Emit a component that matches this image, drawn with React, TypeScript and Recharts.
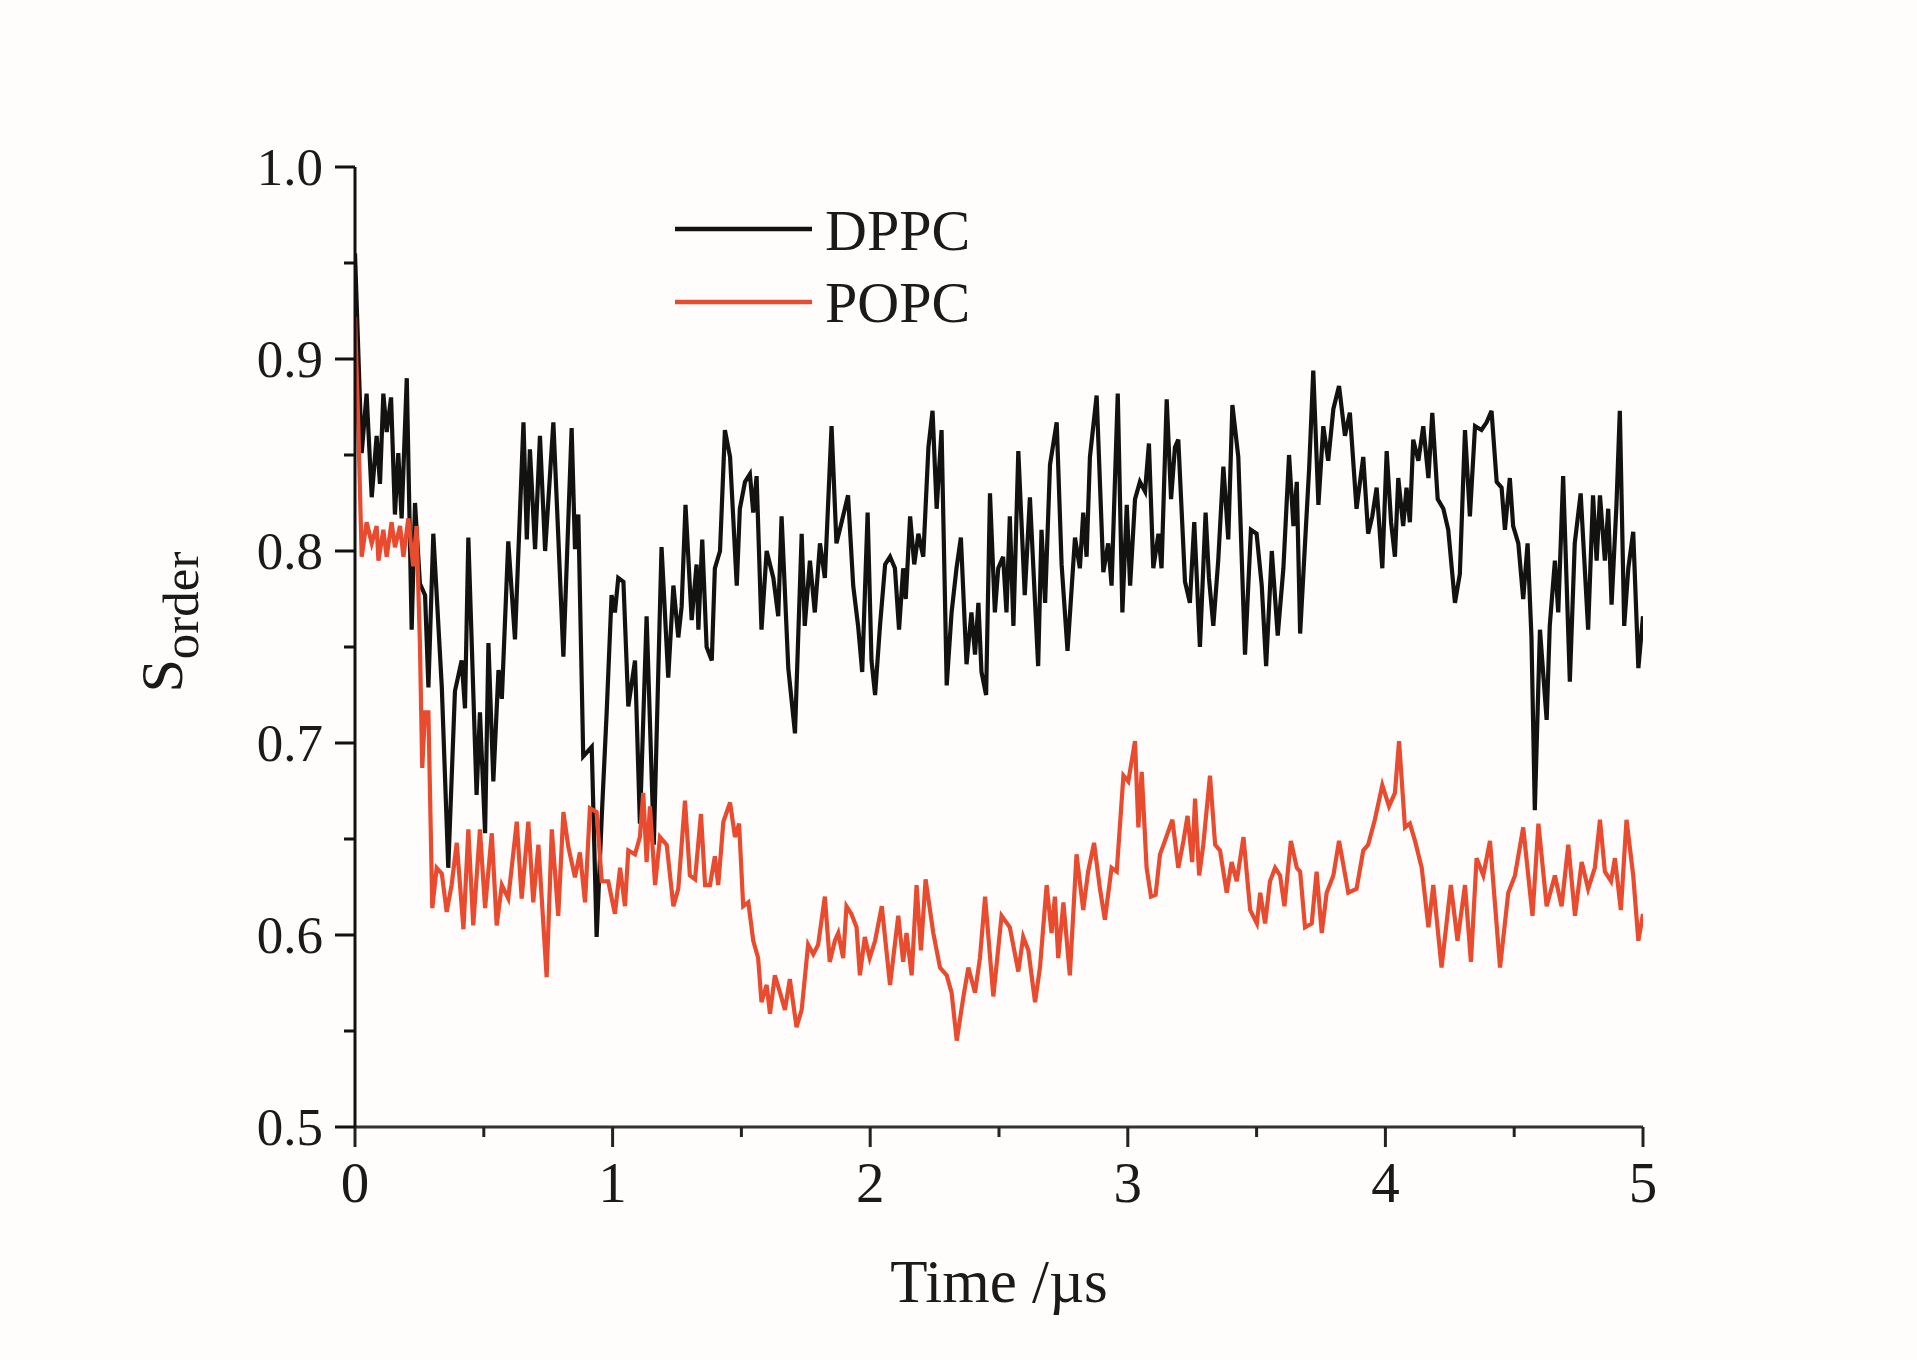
import { LineChart, Line, XAxis, YAxis, Legend } from 'recharts'

// time in µs, order parameter
const dppcTime = [
  0, 0.026, 0.045, 0.065, 0.084, 0.097, 0.11, 0.123, 0.14, 0.155, 0.168, 0.181, 0.201, 0.22, 0.233, 0.252, 0.272, 0.285,
  0.304, 0.337, 0.362, 0.388, 0.414, 0.427, 0.44, 0.472, 0.485, 0.505, 0.518, 0.537, 0.557, 0.57, 0.595, 0.621, 0.654,
  0.667, 0.679, 0.699, 0.718, 0.738, 0.77, 0.789, 0.809, 0.841, 0.854, 0.867, 0.886, 0.919, 0.938, 0.958, 0.977, 0.996,
  1.009, 1.022, 1.042, 1.061, 1.087, 1.106, 1.132, 1.16, 1.19, 1.216, 1.236, 1.255, 1.268, 1.283, 1.307, 1.326, 1.333,
  1.348, 1.365, 1.385, 1.397, 1.417, 1.436, 1.456, 1.482, 1.494, 1.514, 1.533, 1.546, 1.559, 1.578, 1.598, 1.624, 1.643,
  1.656, 1.682, 1.708, 1.734, 1.746, 1.766, 1.785, 1.805, 1.824, 1.85, 1.869, 1.889, 1.914, 1.934, 1.953, 1.969, 1.99,
  2.005, 2.019, 2.038, 2.058, 2.077, 2.096, 2.112, 2.128, 2.138, 2.155, 2.171, 2.187, 2.206, 2.226, 2.242, 2.258, 2.277,
  2.297, 2.316, 2.335, 2.352, 2.374, 2.393, 2.407, 2.42, 2.432, 2.45, 2.465, 2.484, 2.497, 2.516, 2.529, 2.542, 2.556,
  2.575, 2.6, 2.62, 2.652, 2.665, 2.679, 2.698, 2.724, 2.743, 2.766, 2.795, 2.814, 2.827, 2.84, 2.853, 2.879, 2.905,
  2.924, 2.937, 2.961, 2.979, 2.996, 3.009, 3.028, 3.047, 3.067, 3.082, 3.099, 3.119, 3.131, 3.151, 3.168, 3.183, 3.196,
  3.222, 3.241, 3.258, 3.28, 3.302, 3.315, 3.332, 3.351, 3.371, 3.39, 3.406, 3.429, 3.455, 3.478, 3.5, 3.52, 3.537,
  3.559, 3.582, 3.604, 3.626, 3.643, 3.656, 3.669, 3.688, 3.704, 3.72, 3.74, 3.759, 3.778, 3.798, 3.82, 3.843, 3.862,
  3.888, 3.914, 3.933, 3.949, 3.966, 3.988, 4.005, 4.022, 4.037, 4.05, 4.069, 4.082, 4.095, 4.108, 4.128, 4.147, 4.167,
  4.182, 4.203, 4.225, 4.244, 4.27, 4.289, 4.309, 4.328, 4.348, 4.373, 4.393, 4.412, 4.432, 4.451, 4.464, 4.483, 4.496,
  4.516, 4.535, 4.552, 4.567, 4.58, 4.6, 4.626, 4.638, 4.658, 4.671, 4.69, 4.716, 4.735, 4.758, 4.787, 4.806, 4.82,
  4.833, 4.852, 4.865, 4.878, 4.897, 4.91, 4.927, 4.943, 4.962, 4.982, 5.0,
]
const dppcOrder = [
  0.955, 0.851, 0.882, 0.828, 0.86, 0.835, 0.882, 0.862, 0.88, 0.819, 0.851, 0.817, 0.89, 0.759, 0.825, 0.783, 0.777, 0.729,
  0.809, 0.729, 0.635, 0.727, 0.743, 0.718, 0.807, 0.673, 0.716, 0.653, 0.752, 0.68, 0.738, 0.723, 0.805, 0.754, 0.867,
  0.806, 0.853, 0.801, 0.86, 0.8, 0.867, 0.808, 0.745, 0.864, 0.801, 0.819, 0.693, 0.698, 0.599, 0.662, 0.716, 0.777,
  0.768, 0.786, 0.784, 0.719, 0.743, 0.658, 0.766, 0.647, 0.802, 0.734, 0.782, 0.755, 0.771, 0.824, 0.764, 0.793, 0.759,
  0.806, 0.75, 0.743, 0.791, 0.8, 0.863, 0.849, 0.782, 0.822, 0.836, 0.84, 0.82, 0.839, 0.759, 0.8, 0.786, 0.766,
  0.818, 0.739, 0.705, 0.809, 0.761, 0.795, 0.768, 0.804, 0.786, 0.865, 0.804, 0.815, 0.829, 0.782, 0.761, 0.737, 0.82,
  0.743, 0.725, 0.761, 0.793, 0.797, 0.791, 0.759, 0.791, 0.775, 0.818, 0.793, 0.809, 0.797, 0.854, 0.873, 0.822, 0.863,
  0.73, 0.768, 0.791, 0.807, 0.741, 0.768, 0.746, 0.773, 0.737, 0.725, 0.83, 0.768, 0.791, 0.797, 0.768, 0.818, 0.761,
  0.852, 0.777, 0.828, 0.74, 0.811, 0.773, 0.845, 0.867, 0.793, 0.748, 0.807, 0.791, 0.82, 0.797, 0.849, 0.881, 0.789,
  0.804, 0.782, 0.882, 0.768, 0.824, 0.782, 0.827, 0.836, 0.831, 0.856, 0.791, 0.809, 0.791, 0.879, 0.827, 0.854, 0.858,
  0.784, 0.773, 0.815, 0.75, 0.82, 0.786, 0.761, 0.795, 0.844, 0.806, 0.876, 0.849, 0.746, 0.811, 0.809, 0.782, 0.74,
  0.8, 0.756, 0.791, 0.85, 0.813, 0.836, 0.757, 0.804, 0.843, 0.894, 0.824, 0.865, 0.847, 0.874, 0.886, 0.86, 0.872,
  0.822, 0.849, 0.809, 0.818, 0.833, 0.791, 0.852, 0.815, 0.797, 0.838, 0.813, 0.833, 0.815, 0.858, 0.847, 0.865, 0.838,
  0.872, 0.827, 0.822, 0.811, 0.773, 0.788, 0.863, 0.818, 0.865, 0.863, 0.867, 0.873, 0.836, 0.833, 0.811, 0.838, 0.813,
  0.804, 0.775, 0.804, 0.755, 0.665, 0.759, 0.712, 0.761, 0.795, 0.768, 0.839, 0.732, 0.804, 0.83, 0.759, 0.829, 0.795,
  0.829, 0.795, 0.822, 0.772, 0.824, 0.873, 0.761, 0.791, 0.81, 0.739, 0.766,
]

const popcTime = [
  0, 0.013, 0.026, 0.045, 0.065, 0.084, 0.091, 0.11, 0.123, 0.142, 0.155, 0.175, 0.188, 0.207, 0.226, 0.239, 0.252, 0.261,
  0.272, 0.285, 0.3, 0.317, 0.337, 0.356, 0.375, 0.395, 0.421, 0.44, 0.459, 0.485, 0.505, 0.531, 0.55, 0.57, 0.595,
  0.628, 0.647, 0.673, 0.692, 0.712, 0.744, 0.764, 0.789, 0.809, 0.828, 0.854, 0.873, 0.893, 0.912, 0.938, 0.958, 0.983,
  1.009, 1.029, 1.048, 1.061, 1.087, 1.106, 1.119, 1.132, 1.145, 1.165, 1.184, 1.21, 1.236, 1.255, 1.281, 1.3, 1.32,
  1.343, 1.359, 1.378, 1.397, 1.41, 1.43, 1.456, 1.475, 1.491, 1.507, 1.527, 1.546, 1.565, 1.578, 1.598, 1.611, 1.63,
  1.65, 1.669, 1.688, 1.714, 1.734, 1.759, 1.779, 1.798, 1.824, 1.843, 1.863, 1.876, 1.895, 1.908, 1.927, 1.947, 1.96,
  1.979, 1.998, 2.019, 2.045, 2.077, 2.109, 2.128, 2.141, 2.161, 2.18, 2.197, 2.215, 2.245, 2.271, 2.297, 2.316, 2.336,
  2.362, 2.381, 2.407, 2.426, 2.446, 2.478, 2.51, 2.542, 2.575, 2.594, 2.614, 2.64, 2.659, 2.685, 2.704, 2.717, 2.73,
  2.75, 2.775, 2.801, 2.827, 2.846, 2.869, 2.892, 2.911, 2.937, 2.957, 2.983, 3.002, 3.028, 3.041, 3.054, 3.073, 3.09,
  3.108, 3.125, 3.144, 3.173, 3.196, 3.216, 3.232, 3.25, 3.261, 3.277, 3.293, 3.319, 3.339, 3.358, 3.384, 3.403, 3.423,
  3.449, 3.475, 3.501, 3.514, 3.533, 3.552, 3.572, 3.591, 3.608, 3.633, 3.656, 3.669, 3.688, 3.714, 3.733, 3.753, 3.772,
  3.798, 3.82, 3.856, 3.888, 3.914, 3.933, 3.959, 3.988, 4.014, 4.037, 4.053, 4.076, 4.095, 4.115, 4.141, 4.167, 4.186,
  4.218, 4.254, 4.28, 4.309, 4.332, 4.354, 4.38, 4.406, 4.445, 4.477, 4.503, 4.535, 4.571, 4.594, 4.626, 4.658, 4.684,
  4.71, 4.736, 4.762, 4.787, 4.813, 4.833, 4.852, 4.876, 4.891, 4.914, 4.936, 4.962, 4.982, 5.0,
]
const popcOrder = [
  0.922, 0.864, 0.797, 0.815, 0.804, 0.813, 0.795, 0.811, 0.797, 0.815, 0.802, 0.813, 0.797, 0.817, 0.792, 0.813, 0.752, 0.687,
  0.716, 0.716, 0.614, 0.635, 0.632, 0.612, 0.626, 0.648, 0.603, 0.655, 0.605, 0.655, 0.614, 0.653, 0.605, 0.626, 0.619,
  0.659, 0.619, 0.659, 0.617, 0.647, 0.578, 0.655, 0.61, 0.664, 0.646, 0.63, 0.643, 0.617, 0.666, 0.664, 0.628, 0.628,
  0.611, 0.635, 0.615, 0.644, 0.642, 0.651, 0.674, 0.638, 0.667, 0.626, 0.651, 0.647, 0.615, 0.624, 0.67, 0.631, 0.629,
  0.663, 0.626, 0.626, 0.641, 0.626, 0.659, 0.669, 0.651, 0.658, 0.615, 0.617, 0.597, 0.588, 0.565, 0.574, 0.559, 0.579,
  0.57, 0.561, 0.577, 0.552, 0.561, 0.595, 0.59, 0.595, 0.62, 0.586, 0.597, 0.601, 0.588, 0.615, 0.611, 0.604, 0.579,
  0.599, 0.588, 0.597, 0.615, 0.574, 0.61, 0.586, 0.601, 0.579, 0.626, 0.592, 0.629, 0.601, 0.583, 0.579, 0.57, 0.545,
  0.568, 0.583, 0.57, 0.588, 0.62, 0.568, 0.61, 0.604, 0.581, 0.599, 0.592, 0.565, 0.583, 0.626, 0.601, 0.62, 0.588,
  0.617, 0.579, 0.642, 0.613, 0.633, 0.648, 0.624, 0.608, 0.635, 0.633, 0.683, 0.68, 0.701, 0.656, 0.685, 0.635, 0.62,
  0.621, 0.642, 0.649, 0.66, 0.635, 0.649, 0.662, 0.638, 0.671, 0.631, 0.647, 0.683, 0.647, 0.644, 0.622, 0.638, 0.628,
  0.651, 0.613, 0.606, 0.622, 0.606, 0.628, 0.635, 0.631, 0.615, 0.649, 0.635, 0.633, 0.604, 0.606, 0.633, 0.601, 0.622,
  0.631, 0.649, 0.622, 0.624, 0.644, 0.647, 0.66, 0.678, 0.667, 0.674, 0.701, 0.656, 0.658, 0.649, 0.635, 0.604, 0.626,
  0.583, 0.626, 0.597, 0.626, 0.586, 0.64, 0.631, 0.649, 0.583, 0.622, 0.631, 0.656, 0.61, 0.658, 0.615, 0.631, 0.615,
  0.647, 0.61, 0.638, 0.624, 0.635, 0.66, 0.633, 0.628, 0.64, 0.613, 0.66, 0.631, 0.597, 0.611,
]

const xTicks = [0, 0.5, 1, 1.5, 2, 2.5, 3, 3.5, 4, 4.5, 5]
const yTicks = [0.5, 0.55, 0.6, 0.65, 0.7, 0.75, 0.8, 0.85, 0.9, 0.95, 1.0]

const seriesNames = ['DPPC', 'POPC']
const seriesColors = ['#121310', '#e94b2f']

const FONT = '"Liberation Serif", "Times New Roman", serif'

const dppcData = dppcTime.map((t, i) => ({ t, v: dppcOrder[i] }))
const popcData = popcTime.map((t, i) => ({ t, v: popcOrder[i] }))

const isMajor = (v: number, step: number) => Math.abs(v / step - Math.round(v / step)) < 1e-6

function YTick(props: { x?: number; y?: number; payload?: { value: number } }) {
  const { x = 0, y = 0, payload } = props
  if (!payload) return null
  const major = isMajor(payload.value, 0.1)
  return (
    <g>
      <line x1={x - (major ? 20 : 11)} x2={x} y1={y} y2={y} stroke="#111" strokeWidth={3} />
      {major && (
        <text x={x - 32} y={y + 18} textAnchor="end" fontSize={53} fontFamily={FONT} fill="#1a1a1a">
          {payload.value.toFixed(1)}
        </text>
      )}
    </g>
  )
}

function XTick(props: { x?: number; y?: number; payload?: { value: number } }) {
  const { x = 0, y = 0, payload } = props
  if (!payload) return null
  const major = isMajor(payload.value, 1)
  return (
    <g>
      <line x1={x} x2={x} y1={y} y2={y + (major ? 20 : 10)} stroke="#222" strokeWidth={3} />
      {major && (
        <text x={x} y={y + 75} textAnchor="middle" fontSize={57} fontFamily={FONT} fill="#1a1a1a">
          {payload.value}
        </text>
      )}
    </g>
  )
}

function LegendBox() {
  return (
    <svg width={380} height={150}>
      {seriesNames.map((name, i) => (
        <g key={name}>
          <line x1={15} x2={152} y1={39 + i * 73} y2={39 + i * 73} stroke={seriesColors[i]} strokeWidth={4.5} />
          <text x={165} y={60 + i * 72} fontSize={58} fontFamily={FONT} fill="#1a1a1a">
            {name}
          </text>
        </g>
      ))}
    </svg>
  )
}

export default function App() {
  return (
    <div style={{ position: 'absolute', left: 0, top: 0, width: 1917, height: 1360, background: '#fefdfc' }}>
      <LineChart width={1917} height={1360} margin={{ top: 167, right: 274, bottom: 133, left: 255 }}>
        <XAxis
          xAxisId="bottom"
          dataKey="t"
          type="number"
          domain={[0, 5]}
          ticks={xTicks}
          interval={0}
          height={100}
          tickSize={0}
          tickMargin={0}
          tickLine={false}
          tick={<XTick />}
          axisLine={{ stroke: '#333', strokeWidth: 3 }}
          allowDataOverflow
          label={{
            content: (p: { viewBox?: { x: number; y: number; width: number } }) => {
              const vb = p.viewBox ?? { x: 0, y: 0, width: 0 }
              return (
                <text x={vb.x + vb.width / 2} y={vb.y + 175} textAnchor="middle" fontSize={61} fontFamily={FONT} fill="#1a1a1a">
                  Time /µs
                </text>
              )
            },
          }}
        />
        <XAxis xAxisId="top" orientation="top" type="number" domain={[0, 5]} height={0} tick={false} tickLine={false} axisLine={{ stroke: '#111', strokeWidth: 3 }} />
        <YAxis
          yAxisId="left"
          type="number"
          domain={[0.5, 1]}
          ticks={yTicks}
          interval={0}
          width={100}
          tickSize={0}
          tickMargin={0}
          tickLine={false}
          tick={<YTick />}
          axisLine={{ stroke: '#111', strokeWidth: 3 }}
          allowDataOverflow
          label={{
            content: (p: { viewBox?: { x: number; y: number; width: number; height: number } }) => {
              const vb = p.viewBox ?? { x: 0, y: 0, width: 0, height: 0 }
              const cx = 182
              const cy = vb.y + vb.height / 2 - 25
              return (
                <text x={cx} y={cy} textAnchor="middle" fontFamily={FONT} fill="#1a1a1a" transform={`rotate(-90 ${cx} ${cy})`}>
                  <tspan fontSize={60}>S</tspan>
                  <tspan fontSize={51} dy={16}>order</tspan>
                </text>
              )
            },
          }}
        />
        <YAxis yAxisId="right" orientation="right" type="number" domain={[0.5, 1]} width={0} tick={false} tickLine={false} axisLine={{ stroke: '#111', strokeWidth: 3 }} />
        <Legend
          layout="vertical"
          align="center"
          verticalAlign="middle"
          content={<LegendBox />}
          wrapperStyle={{ left: 660, top: 190, width: 380, height: 150 }}
        />
        <Line
          xAxisId="bottom"
          yAxisId="left"
          data={dppcData}
          dataKey="v"
          name={seriesNames[0]}
          stroke={seriesColors[0]}
          strokeWidth={4.2}
          dot={false}
          activeDot={false}
          type="linear"
          isAnimationActive={false}
        />
        <Line
          xAxisId="bottom"
          yAxisId="left"
          data={popcData}
          dataKey="v"
          name={seriesNames[1]}
          stroke={seriesColors[1]}
          strokeWidth={4.2}
          dot={false}
          activeDot={false}
          type="linear"
          isAnimationActive={false}
        />
      </LineChart>
    </div>
  )
}
